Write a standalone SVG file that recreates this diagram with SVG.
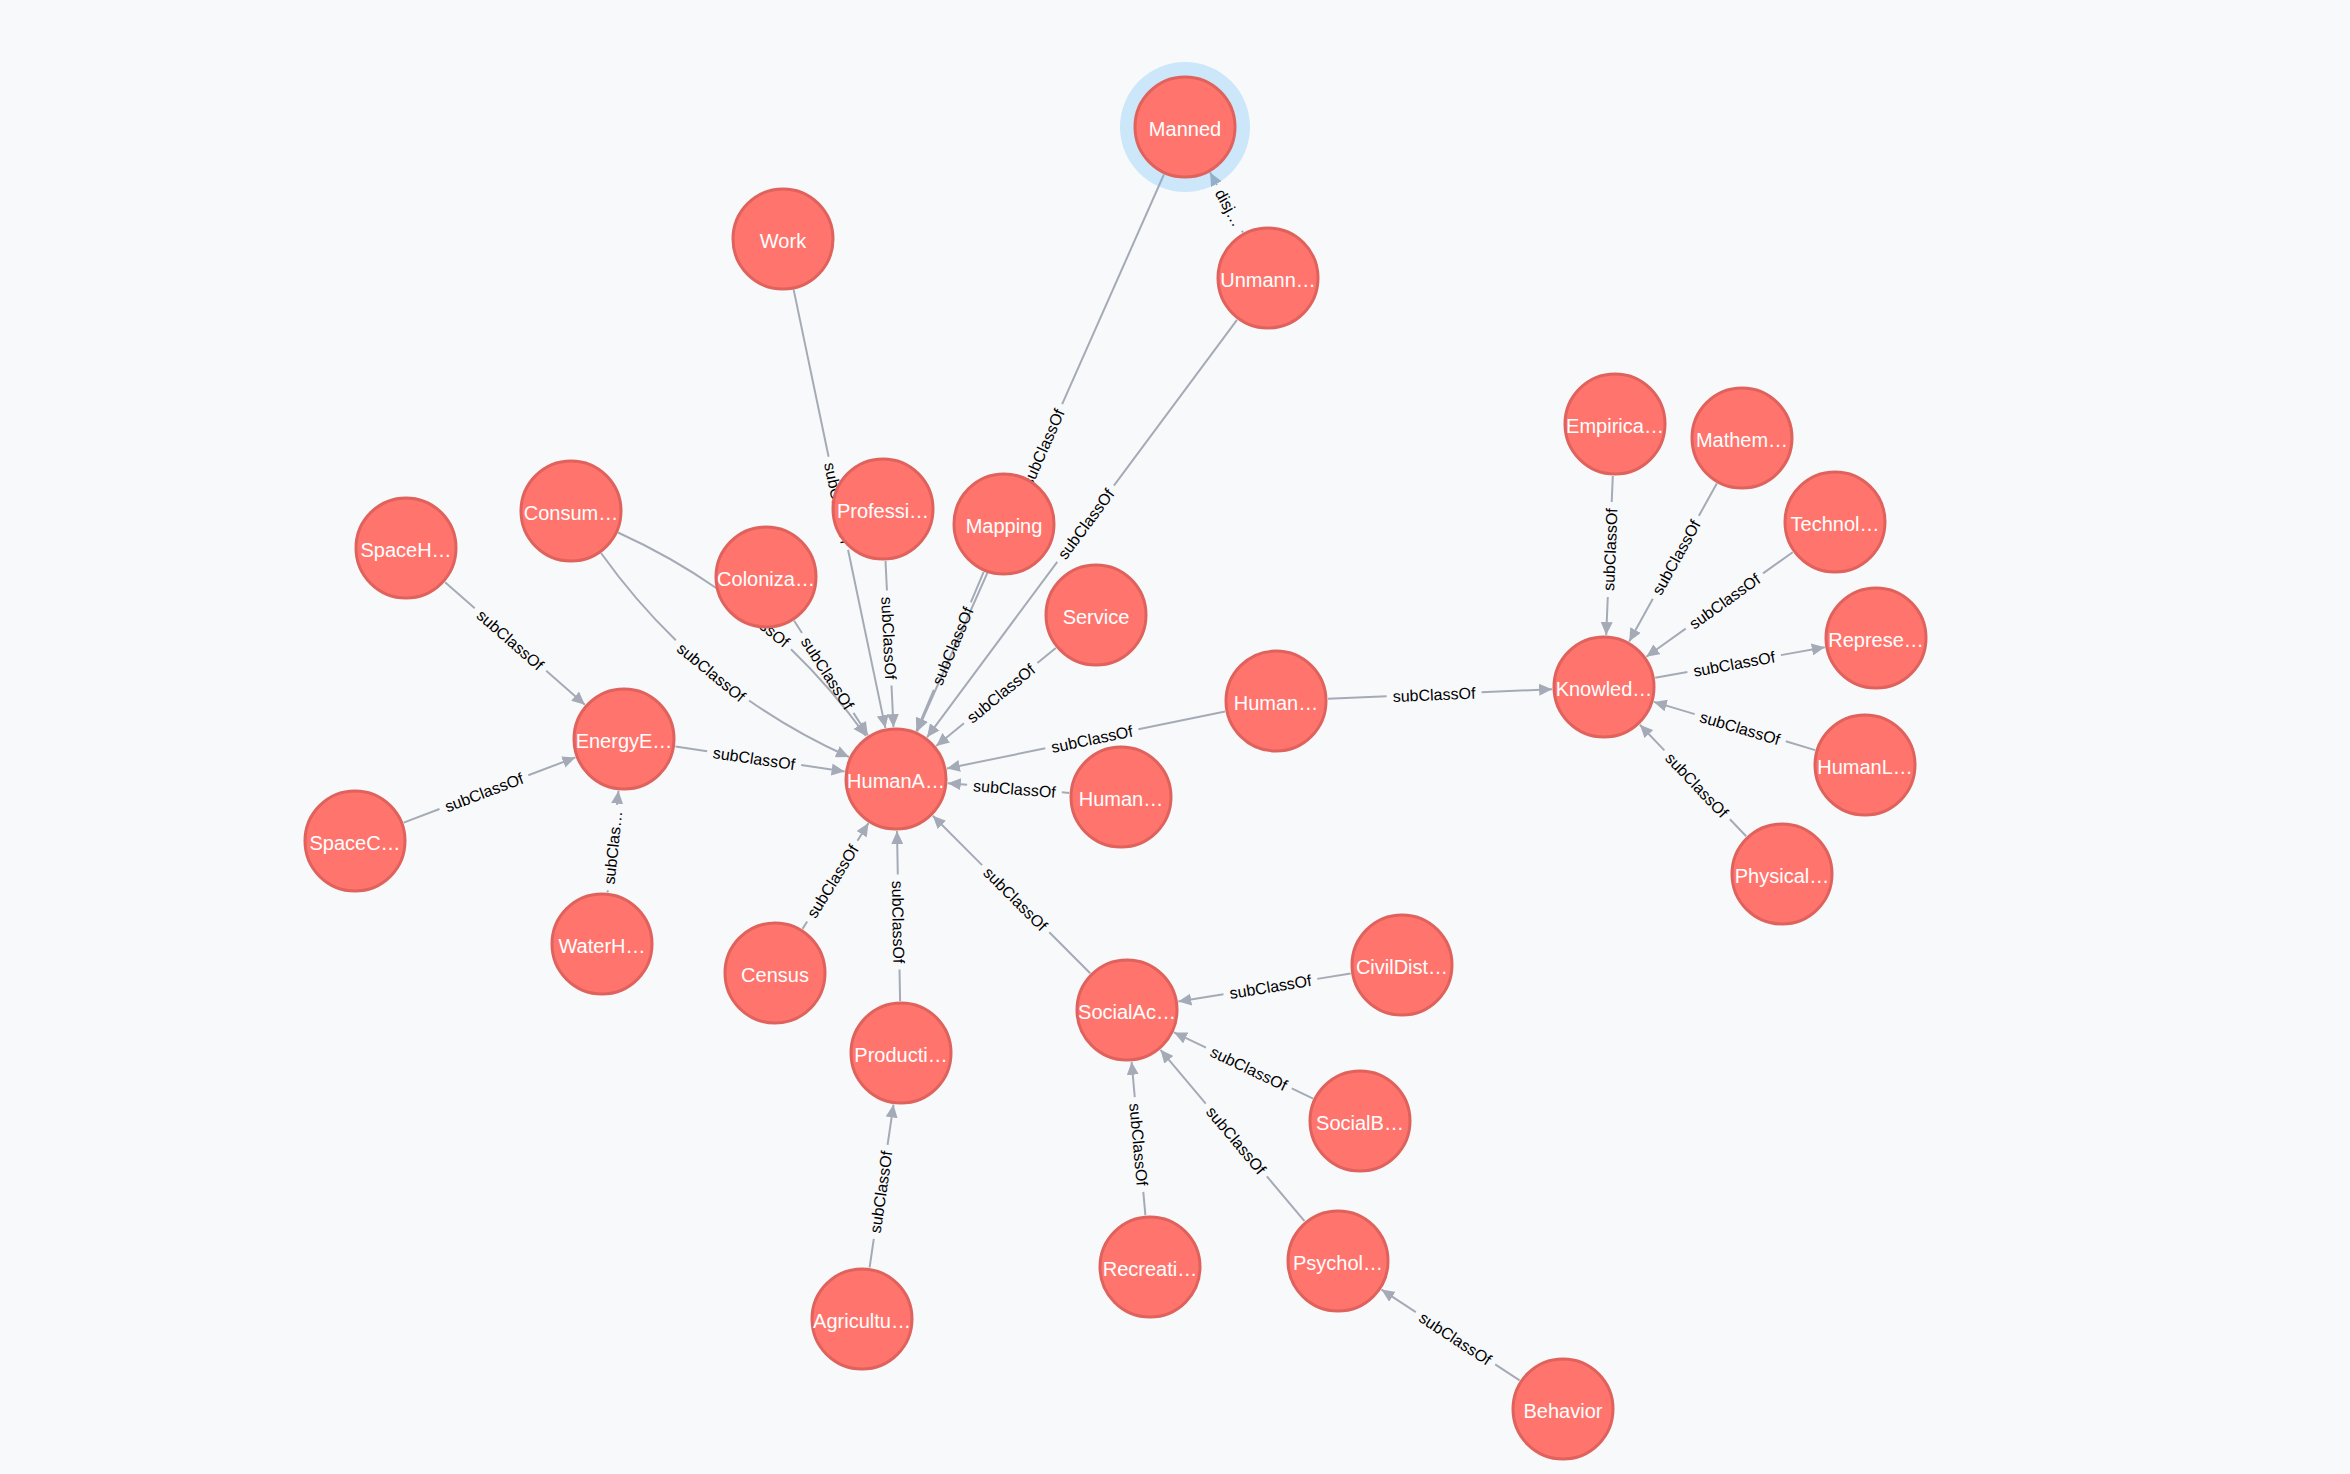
<svg xmlns="http://www.w3.org/2000/svg" width="2350" height="1474" viewBox="0 0 2350 1474">
<style>
.e{stroke:#A5ABB6;stroke-width:2;fill:none;marker-end:url(#arr)}
.el{font-family:"Liberation Sans",Arial,sans-serif;font-size:16px;fill:#000;text-anchor:middle}
.n circle.c{fill:#FF756E;stroke:#E0625C;stroke-width:3}
.n text{font-family:"Liberation Sans",Arial,sans-serif;font-size:20px;fill:#FFFFFF;text-anchor:middle}
.halo{fill:#68BDF6;fill-opacity:0.3}
</style>
<defs>
<marker id="arr" markerUnits="userSpaceOnUse" viewBox="0 0 13 12" markerWidth="13" markerHeight="12" refX="13" refY="6" orient="auto">
<path d="M0,0 L13,6 L0,12 z" fill="#A5ABB6"/>
</marker>
</defs>
<rect x="0" y="0" width="2350" height="1474" fill="#F8F9FB"/>
<g id="connectors">
<line class="e" x1="1242.9" y1="232.4" x2="1210.1" y2="172.6" style="stroke-dasharray:2 52 500"/>
<text class="el" transform="translate(1229.4 207.7) rotate(61.2)" y="6">disj…</text>
<line class="e" x1="1163.9" y1="174.5" x2="917.1" y2="731.5" style="stroke-dasharray:251.1 95 2000"/>
<text class="el" transform="translate(1042.9 447.5) rotate(-66.1)" y="6">subClassOf</text>
<line class="e" x1="1237.0" y1="319.8" x2="927.0" y2="737.3" style="stroke-dasharray:206.5 95 2000"/>
<text class="el" transform="translate(1085.6 523.7) rotate(-53.4)" y="6">subClassOf</text>
<line class="e" x1="793.7" y1="289.9" x2="885.4" y2="728.1" style="stroke-dasharray:170.4 95 2000"/>
<text class="el" transform="translate(838.3 503.1) rotate(78.2)" y="6">subClassOf</text>
<line class="e" x1="885.5" y1="560.9" x2="893.5" y2="727.1" style="stroke-dasharray:29.7 95 2000"/>
<text class="el" transform="translate(889.2 638.0) rotate(87.2)" y="6">subClassOf</text>
<line class="e" x1="983.7" y1="571.9" x2="916.3" y2="731.1" style="stroke-dasharray:33 95 2000"/>
<text class="el" transform="translate(952.3 646.0) rotate(-67.1)" y="6">subClassOf</text>
<line class="e" x1="1055.8" y1="648.0" x2="936.2" y2="746.0" style="stroke-dasharray:23.8 95 2000"/>
<text class="el" transform="translate(1000.6 693.2) rotate(-39.4)" y="6">subClassOf</text>
<path class="e" d="M601,553 Q698,689 849,757" style="stroke-dasharray:115 95 2000"/>
<text class="el" transform="translate(711.5 672) rotate(39.4)" y="6">subClassOf</text>
<path class="e" d="M618,532.5 Q769,601 866,736" style="stroke-dasharray:114.7 95 2000"/>
<text class="el" transform="translate(755.5 617.5) rotate(39.4)" y="6">subClassOf</text>
<line class="e" x1="794.1" y1="620.7" x2="867.9" y2="735.3" style="stroke-dasharray:14.6 95 2000"/>
<text class="el" transform="translate(827.8 673.0) rotate(57.2)" y="6">subClassOf</text>
<line class="e" x1="675.5" y1="746.6" x2="844.6" y2="771.4" style="stroke-dasharray:32 95 2000"/>
<text class="el" transform="translate(754.1 758.1) rotate(8.4)" y="6">subClassOf</text>
<line class="e" x1="445.1" y1="582.3" x2="584.9" y2="704.7" style="stroke-dasharray:39.4 95 2000"/>
<text class="el" transform="translate(510.5 639.6) rotate(41.2)" y="6">subClassOf</text>
<line class="e" x1="403.6" y1="822.6" x2="575.4" y2="757.4" style="stroke-dasharray:38.4 95 2000"/>
<text class="el" transform="translate(483.9 792.1) rotate(-20.8)" y="6">subClassOf</text>
<line class="e" x1="607.6" y1="892.3" x2="618.5" y2="790.7" style="stroke-dasharray:2 86 500"/>
<text class="el" transform="translate(612.4 847.5) rotate(-83.9)" y="6">subClas…</text>
<line class="e" x1="1225.1" y1="711.5" x2="946.9" y2="768.5" style="stroke-dasharray:88.5 95 2000"/>
<text class="el" transform="translate(1091.9 738.8) rotate(-11.6)" y="6">subClassOf</text>
<line class="e" x1="1069.2" y1="792.9" x2="947.8" y2="783.2" style="stroke-dasharray:7.4 95 2000"/>
<text class="el" transform="translate(1014.5 788.5) rotate(4.6)" y="6">subClassOf</text>
<line class="e" x1="1328.0" y1="698.8" x2="1552.1" y2="689.2" style="stroke-dasharray:58.7 95 2000"/>
<text class="el" transform="translate(1434.0 694.3) rotate(-2.4)" y="6">subClassOf</text>
<line class="e" x1="802.5" y1="928.9" x2="868.5" y2="823.1" style="stroke-dasharray:8.8 95 2000"/>
<text class="el" transform="translate(832.3 881.1) rotate(-58.1)" y="6">subClassOf</text>
<line class="e" x1="900.1" y1="1001.0" x2="897.0" y2="831.0" style="stroke-dasharray:31.5 95 2000"/>
<text class="el" transform="translate(898.6 922.0) rotate(89.0)" y="6">subClassOf</text>
<line class="e" x1="869.6" y1="1267.5" x2="893.5" y2="1104.5" style="stroke-dasharray:28.9 95 2000"/>
<text class="el" transform="translate(880.6 1191.9) rotate(-81.7)" y="6">subClassOf</text>
<line class="e" x1="1090.2" y1="973.2" x2="932.8" y2="815.8" style="stroke-dasharray:57.9 95 2000"/>
<text class="el" transform="translate(1015.7 898.7) rotate(45)" y="6">subClassOf</text>
<line class="e" x1="1350.7" y1="973.4" x2="1178.3" y2="1001.6" style="stroke-dasharray:33.9 95 2000"/>
<text class="el" transform="translate(1270.4 986.5) rotate(-9.3)" y="6">subClassOf</text>
<line class="e" x1="1313.1" y1="1098.6" x2="1174.0" y2="1032.4" style="stroke-dasharray:23.6 95 2000"/>
<text class="el" transform="translate(1248.9 1068.1) rotate(25.5)" y="6">subClassOf</text>
<line class="e" x1="1145.4" y1="1215.2" x2="1131.6" y2="1061.8" style="stroke-dasharray:23.5 95 2000"/>
<text class="el" transform="translate(1139.0 1144.5) rotate(84.9)" y="6">subClassOf</text>
<line class="e" x1="1304.5" y1="1221.2" x2="1160.5" y2="1049.8" style="stroke-dasharray:58.5 95 2000"/>
<text class="el" transform="translate(1236.4 1140.1) rotate(50.0)" y="6">subClassOf</text>
<line class="e" x1="1519.6" y1="1380.4" x2="1381.5" y2="1289.6" style="stroke-dasharray:29.2 95 2000"/>
<text class="el" transform="translate(1455.5 1338.3) rotate(33.3)" y="6">subClassOf</text>
<line class="e" x1="1612.8" y1="476.0" x2="1606.2" y2="635.1" style="stroke-dasharray:26.1 95 2000"/>
<text class="el" transform="translate(1609.8 549.5) rotate(-87.6)" y="6">subClassOf</text>
<line class="e" x1="1716.8" y1="483.5" x2="1629.2" y2="641.5" style="stroke-dasharray:36.9 95 2000"/>
<text class="el" transform="translate(1675.9 557.3) rotate(-61)" y="6">subClassOf</text>
<line class="e" x1="1792.7" y1="552.2" x2="1646.3" y2="656.8" style="stroke-dasharray:36.5 95 2000"/>
<text class="el" transform="translate(1724.4 601.0) rotate(-35.5)" y="6">subClassOf</text>
<line class="e" x1="1655.2" y1="677.8" x2="1824.8" y2="647.2" style="stroke-dasharray:32.7 95 2000"/>
<text class="el" transform="translate(1734.1 663.6) rotate(-10.2)" y="6">subClassOf</text>
<line class="e" x1="1815.2" y1="750.1" x2="1653.8" y2="701.9" style="stroke-dasharray:30.7 95 2000"/>
<text class="el" transform="translate(1740.2 727.7) rotate(16.6)" y="6">subClassOf</text>
<line class="e" x1="1746.2" y1="836.3" x2="1639.9" y2="724.7" style="stroke-dasharray:23.6 95 2000"/>
<text class="el" transform="translate(1697.1 784.9) rotate(46.4)" y="6">subClassOf</text>
</g>
<g id="nodes">
<g id="n-manned" class="n"><circle class="halo" cx="1185" cy="127" r="65"/><circle class="c" cx="1185" cy="127" r="50"/><text x="1185" y="136">Manned</text></g>
<g id="n-unmanned" class="n"><circle class="c" cx="1268" cy="278" r="50"/><text x="1268" y="287">Unmann…</text></g>
<g id="n-work" class="n"><circle class="c" cx="783" cy="239" r="50"/><text x="783" y="248">Work</text></g>
<g id="n-professi" class="n"><circle class="c" cx="883" cy="509" r="50"/><text x="883" y="518">Professi…</text></g>
<g id="n-mapping" class="n"><circle class="c" cx="1004" cy="524" r="50"/><text x="1004" y="533">Mapping</text></g>
<g id="n-service" class="n"><circle class="c" cx="1096" cy="615" r="50"/><text x="1096" y="624">Service</text></g>
<g id="n-consum" class="n"><circle class="c" cx="571" cy="511" r="50"/><text x="571" y="520">Consum…</text></g>
<g id="n-spaceh" class="n"><circle class="c" cx="406" cy="548" r="50"/><text x="406" y="557">SpaceH…</text></g>
<g id="n-coloniza" class="n"><circle class="c" cx="766" cy="577" r="50"/><text x="766" y="586">Coloniza…</text></g>
<g id="n-energye" class="n"><circle class="c" cx="624" cy="739" r="50"/><text x="624" y="748">EnergyE…</text></g>
<g id="n-spacec" class="n"><circle class="c" cx="355" cy="841" r="50"/><text x="355" y="850">SpaceC…</text></g>
<g id="n-waterh" class="n"><circle class="c" cx="602" cy="944" r="50"/><text x="602" y="953">WaterH…</text></g>
<g id="n-humana" class="n"><circle class="c" cx="896" cy="779" r="50"/><text x="896" y="788">HumanA…</text></g>
<g id="n-human-up" class="n"><circle class="c" cx="1276" cy="701" r="50"/><text x="1276" y="710">Human…</text></g>
<g id="n-human-low" class="n"><circle class="c" cx="1121" cy="797" r="50"/><text x="1121" y="806">Human…</text></g>
<g id="n-census" class="n"><circle class="c" cx="775" cy="973" r="50"/><text x="775" y="982">Census</text></g>
<g id="n-producti" class="n"><circle class="c" cx="901" cy="1053" r="50"/><text x="901" y="1062">Producti…</text></g>
<g id="n-agricultu" class="n"><circle class="c" cx="862" cy="1319" r="50"/><text x="862" y="1328">Agricultu…</text></g>
<g id="n-socialac" class="n"><circle class="c" cx="1127" cy="1010" r="50"/><text x="1127" y="1019">SocialAc…</text></g>
<g id="n-civildist" class="n"><circle class="c" cx="1402" cy="965" r="50"/><text x="1402" y="974">CivilDist…</text></g>
<g id="n-socialb" class="n"><circle class="c" cx="1360" cy="1121" r="50"/><text x="1360" y="1130">SocialB…</text></g>
<g id="n-recreati" class="n"><circle class="c" cx="1150" cy="1267" r="50"/><text x="1150" y="1276">Recreati…</text></g>
<g id="n-psychol" class="n"><circle class="c" cx="1338" cy="1261" r="50"/><text x="1338" y="1270">Psychol…</text></g>
<g id="n-behavior" class="n"><circle class="c" cx="1563" cy="1409" r="50"/><text x="1563" y="1418">Behavior</text></g>
<g id="n-knowled" class="n"><circle class="c" cx="1604" cy="687" r="50"/><text x="1604" y="696">Knowled…</text></g>
<g id="n-empirica" class="n"><circle class="c" cx="1615" cy="424" r="50"/><text x="1615" y="433">Empirica…</text></g>
<g id="n-mathem" class="n"><circle class="c" cx="1742" cy="438" r="50"/><text x="1742" y="447">Mathem…</text></g>
<g id="n-technol" class="n"><circle class="c" cx="1835" cy="522" r="50"/><text x="1835" y="531">Technol…</text></g>
<g id="n-represe" class="n"><circle class="c" cx="1876" cy="638" r="50"/><text x="1876" y="647">Represe…</text></g>
<g id="n-humanl" class="n"><circle class="c" cx="1865" cy="765" r="50"/><text x="1865" y="774">HumanL…</text></g>
<g id="n-physical" class="n"><circle class="c" cx="1782" cy="874" r="50"/><text x="1782" y="883">Physical…</text></g>
</g>
</svg>
